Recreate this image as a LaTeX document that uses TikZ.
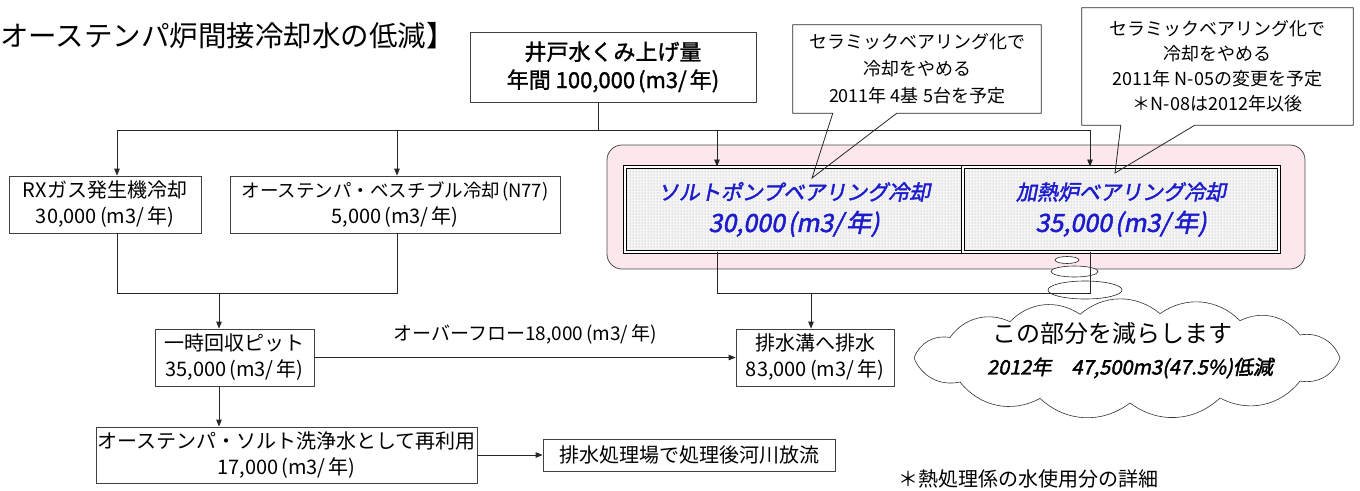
\documentclass[tikz,border=0pt]{standalone}
\usepackage{fontspec}
\setmainfont{Noto Sans CJK JP}
\newfontfamily\jpb[FakeBold=1.5]{Noto Sans CJK JP}
\newfontfamily\jpbi[FakeBold=2,FakeSlant=0.2]{Noto Sans CJK JP}
\usetikzlibrary{arrows.meta,patterns,calc}
\newcommand\fsz[2]{\fontsize{#1}{#2}\selectfont}
\newcommand\munit{\hspace{3pt}(m3/\hspace{3pt}年)}
\definecolor{jblue}{RGB}{28,28,205}
\definecolor{zonepink}{RGB}{252,232,236}
\begin{document}
\begin{tikzpicture}[x=1pt,y=-1pt,
  box/.style={draw=black!75, line width=0.8pt, fill=white, align=center, inner sep=0pt, font=\fsz{20}{26}},
  ln/.style={line width=0.8pt, draw=black!85},
  arr/.style={ln, -{Triangle[length=7pt,width=5.5pt]}},
  bearing/.style={preaction={fill=black!4}, pattern=dots, pattern color=black!35,
    draw=black, line width=0.9pt, double=white, double distance=1.6pt,
    align=center, inner sep=0pt, text=jblue},
  zone/.style={fill=zonepink, draw=black!70, line width=0.8pt, rounded corners=15pt},
  bubble/.style={ln, fill=white, line width=0.6pt},
  puff/.style={bend left=40},
  calltext/.style={align=center, inner sep=0pt, font=\fsz{18}{26}}
]
\useasboundingbox (0,0) rectangle (1360,490);

% title
\node[anchor=west, inner sep=0pt, font=\fsz{28.5}{28}] (title) at (0,36) {オーステンパ炉間接冷却水の低減】};

% pink zone
\node[zone, minimum width=698pt, minimum height=124pt, inner sep=0pt] (zone) at (956,207) {};

% thought bubble ovals
\draw[bubble] (1067,260) ellipse [x radius=12pt, y radius=3.5pt];
\draw[bubble] (1074.5,271.5) ellipse [x radius=23.5pt, y radius=5.5pt];
\draw[bubble] (1085,290) ellipse [x radius=37pt, y radius=9pt];

% boxes
\node[box, minimum width=286pt, minimum height=70pt, font=\jpb\fsz{22}{28}] (top) at (613,67) {井戸水くみ上げ量\\年間 100,000\munit};
\node[box, minimum width=192pt, minimum height=57pt] (rx) at (105,204.5) {RXガス発生機冷却\\30,000\munit};
\node[box, minimum width=330pt, minimum height=57pt, font=\fsz{18.5}{26}] (vest) at (395,204.5) {オーステンパ・ベスチブル冷却\hspace{2pt}(N77)\\{\fsz{20}{26}5,000\munit}};
\node[bearing, minimum width=338pt, minimum height=85pt, font=\jpbi\fsz{21}{32}] (salt) at (794,209.5) {ソルトポンプベアリング冷却\\{\fsz{25}{32}30,000\munit}};
\node[bearing, minimum width=316pt, minimum height=85pt, font=\jpbi\fsz{21}{32}] (heat) at (1121,209.5) {加熱炉ベアリング冷却\\{\fsz{25}{32}35,000\munit}};
\node[box, minimum width=159pt, minimum height=57pt] (pit) at (234.5,357.5) {一時回収ピット\\35,000\munit};
\node[box, minimum width=158pt, minimum height=57pt] (drain) at (815,357.5) {排水溝へ排水\\83,000\munit};
\node[box, minimum width=381pt, minimum height=56pt] (reuse) at (286.5,455) {オーステンパ・ソルト洗浄水として再利用\\17,000\munit};
\node[box, minimum width=292pt, minimum height=32pt] (treat) at (689,455) {排水処理場で処理後河川放流};

% callouts
\node[calltext, minimum width=248pt, minimum height=88pt, font=\fsz{18}{27}] (c1) at (917,69) {セラミックベアリング化で\\冷却をやめる\\2011年 4基 5台を予定};
\coordinate (t1) at (812,178);
\draw[ln] (c1.north west) -- (c1.north east) -- (c1.south east) -- ($(c1.south west)+(104,0)$) -- (t1) -- ($(c1.south west)+(40,0)$) -- (c1.south west) -- cycle;
\node[calltext, minimum width=271pt, minimum height=117pt, font=\fsz{18}{25}] (c2) at (1217.5,66.5) {セラミックベアリング化で\\冷却をやめる\\2011年 N-05の変更を予定\\＊N-08は2012年以後};
\coordinate (t2) at (1115,173);
\draw[ln] (c2.north west) -- (c2.north east) -- (c2.south east) -- ($(c2.south west)+(113,0)$) -- (t2) -- ($(c2.south west)+(39,0)$) -- (c2.south west) -- cycle;

% supply bus
\coordinate (b0) at (598,130);
\coordinate (bL) at (117,130);
\coordinate (bV) at (397,130);
\coordinate (bS) at (717,130);
\coordinate (bR) at (1090,130);
\draw[ln] (top.south -| b0) -- (b0);
\draw[ln] (bL) -- (bR);
\draw[arr] (bL) -- (bL |- rx.north);
\draw[arr] (bV) -- (bV |- vest.north);
\draw[arr] (bS) -- (bS |- salt.north);
\draw[arr] (bR) -- (bR |- heat.north);

% merge to pit
\coordinate (m1) at (117,293);
\coordinate (m2) at (397,293);
\coordinate (m0) at (219,293);
\draw[ln] (rx.south -| m1) -- (m1) -- (m2) -- (vest.south -| m2);
\draw[arr] (m0) -- (m0 |- pit.north);
\draw[arr] (pit.south -| m0) -- (m0 |- reuse.north);
\draw[arr] (pit.east) -- (drain.west) node[midway, above=13pt, font=\fsz{19}{19}, inner sep=0pt] (ovl) {オーバーフロー18,000\munit};
\draw[arr] (reuse.east) -- (treat.west);

% merge bearings to drain
\coordinate (s1) at (717,293);
\coordinate (s2) at (1090,293);
\coordinate (s0) at (811,293);
\draw[ln] (salt.south -| s1) -- (s1) -- (s2) -- (heat.south -| s2);
\draw[arr] (s0) -- (s0 |- drain.north);

% cloud
\draw[line width=0.6pt, draw=black!80, fill=white]
  (914,358) to[puff] (950,337.5) to[puff] (1010,321.7) to[puff] (1080,314.3)
  to[puff] (1160,313.6) to[puff] (1240,320.7) to[puff] (1300,335) to[puff] (1340,358)
  to[puff] (1300,381) to[puff] (1220,398) to[puff] (1130,403) to[puff] (1040,398.4)
  to[puff] (960,382) to[puff] cycle;
\node[inner sep=0pt, font=\fsz{24}{24}] (cl1) at (1112,333) {この部分を減らします};
\node[inner sep=0pt, font=\jpbi\fsz{20}{20}] (cl2) at (1130,368) {2012年　47,500m3(47.5\%)低減};

% footnote
\node[anchor=west, inner sep=0pt, font=\fsz{20}{20}] (foot) at (898,479) {＊熱処理係の水使用分の詳細};
\end{tikzpicture}
\end{document}
